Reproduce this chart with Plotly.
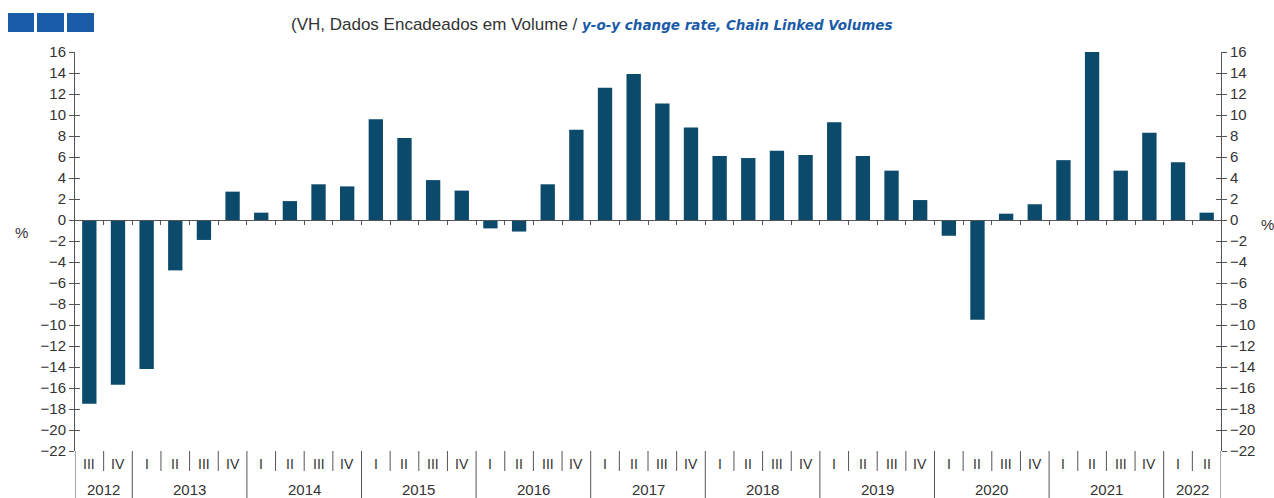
import plotly.graph_objects as go

quarters = ["III", "IV"] + ["I", "II", "III", "IV"] * 9 + ["I", "II"]
years = ["2012", "2013", "2014", "2015", "2016", "2017", "2018", "2019", "2020", "2021", "2022"]
year_counts = [2, 4, 4, 4, 4, 4, 4, 4, 4, 4, 2]
values = [-17.5, -15.7, -14.2, -4.8, -1.9, 2.7, 0.7, 1.8, 3.4, 3.2,
          9.6, 7.8, 3.8, 2.8, -0.8, -1.1, 3.4, 8.6, 12.6, 13.9,
          11.1, 8.8, 6.1, 5.9, 6.6, 6.2, 9.3, 6.1, 4.7, 1.9,
          -1.5, -9.5, 0.6, 1.5, 5.7, 16.0, 4.7, 8.3, 5.5, 0.7]
y_ticks = list(range(-22, 17, 2))

BAR = "#0b4a6b"
AX = "#555555"
FONT = "Liberation Sans, Arial, sans-serif"
n = len(values)
xs = list(range(n))

fig = go.Figure()
fig.add_trace(go.Bar(x=xs, y=values, marker=dict(color=BAR, line=dict(width=0)),
                     width=0.5, showlegend=False, hoverinfo="y"))
for ya in ["y2", "y3", "y4"]:
    fig.add_trace(go.Scatter(x=xs, y=values, yaxis=ya, mode="none", showlegend=False,
                             hoverinfo="skip"))

L, R, T, B = 75, 53, 52, 47
W, H = 1274, 498
pw = W - L - R
ph = H - T - B
yr = [-22, 16]
zero_pos = (0 - yr[0]) / (yr[1] - yr[0])

common_y = dict(range=yr, tickvals=y_ticks, showgrid=False, zeroline=False,
                showline=True, linecolor=AX, linewidth=1, tickcolor=AX,
                tickfont=dict(family=FONT, size=15, color="#333333"))

fig.update_layout(
    width=W, height=H,
    margin=dict(l=L, r=R, t=T, b=B),
    paper_bgcolor="white", plot_bgcolor="white",
    bargap=0.5,
    xaxis=dict(range=[-0.5, n - 0.5], anchor="free", position=zero_pos,
               showline=True, linecolor=AX, linewidth=1, showgrid=False,
               zeroline=False, tickvals=[i + 0.5 for i in range(n - 1)],
               ticks="outside", ticklen=4, tickcolor=AX, showticklabels=False),
    yaxis=dict(**common_y, side="left", ticks="outside", ticklen=5),
    yaxis2=dict(**common_y, side="right", overlaying="y", anchor="x", ticks="outside", ticklen=5),
    yaxis3=dict(**common_y, side="left", overlaying="y", anchor="x",
                ticks="inside", ticklen=5, showticklabels=False),
    yaxis4=dict(**common_y, side="right", overlaying="y", anchor="x",
                ticks="inside", ticklen=5, showticklabels=False),
    font=dict(family=FONT, color="#333333"),
)

shapes = []
annotations = []


def py(pix):
    return 1 - (pix - T) / ph


for i, q in enumerate(quarters):
    annotations.append(dict(x=i, y=py(464), xref="x", yref="paper", text=q, showarrow=False,
                            font=dict(family=FONT, size=14, color="#333333"),
                            xanchor="center", yanchor="middle"))
boundaries = []
start = 0
for yname, cnt in zip(years, year_counts):
    annotations.append(dict(x=start + (cnt - 1) / 2, y=py(489), xref="x", yref="paper",
                            text=yname, showarrow=False,
                            font=dict(family=FONT, size=15, color="#333333"),
                            xanchor="center", yanchor="middle"))
    boundaries.append(start - 0.5)
    start += cnt
boundaries.append(start - 0.5)

for i in range(n + 1):
    xb = i - 0.5
    y1 = py(H) if xb in boundaries else py(471)
    shapes.append(dict(type="line", xref="x", yref="paper", x0=xb, x1=xb, y0=0, y1=y1,
                       line=dict(color=AX, width=1)))

# header squares
for x0, x1 in [(8, 34), (37, 64), (67, 94)]:
    shapes.append(dict(type="rect", xref="paper", yref="paper",
                       x0=(x0 - L) / pw, x1=(x1 - L) / pw, y0=py(32), y1=py(13),
                       fillcolor="#1b5ca8", line=dict(width=0)))

annotations.append(dict(
    x=(289 - L) / pw, y=py(24), xref="paper", yref="paper", xanchor="left", yanchor="middle",
    showarrow=False,
    text="(VH, Dados Encadeados em Volume / <b><i><span style='color:#1b5ca8;font-size:13.5px;font-family:DejaVu Sans'>y-o-y change rate, Chain Linked Volumes</span></i></b>",
    font=dict(family=FONT, size=17, color="#333333")))

annotations.append(dict(x=(30 - L) / pw, y=py(233), xref="paper", yref="paper", text="%",
                        xanchor="right", showarrow=False,
                        font=dict(family=FONT, size=15, color="#333333")))
annotations.append(dict(x=(1259 - L) / pw, y=py(225), xref="paper", yref="paper", text="%",
                        xanchor="left", showarrow=False,
                        font=dict(family=FONT, size=15, color="#333333")))

fig.update_layout(shapes=shapes, annotations=annotations)
fig.write_html("out.html", config={"displayModeBar": False},
               post_script="document.body.style.margin='0px';")
